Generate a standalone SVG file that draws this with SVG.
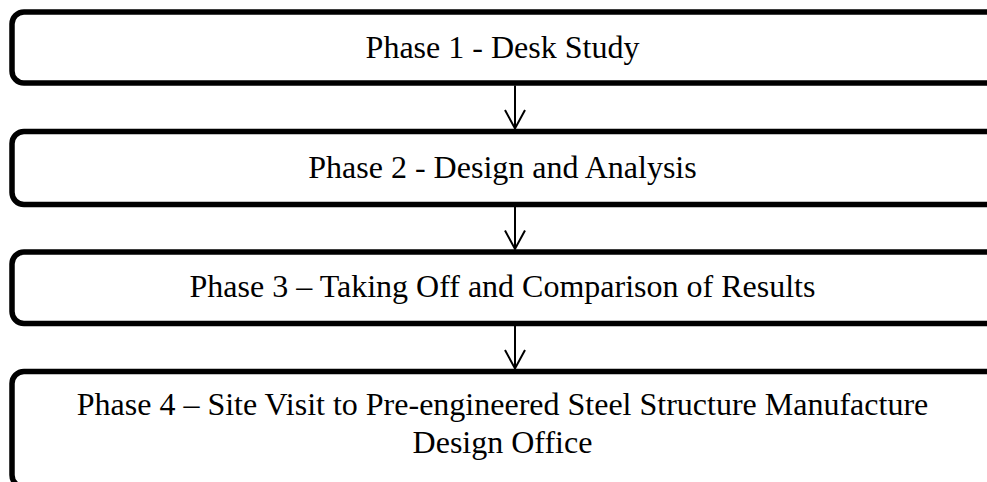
<svg xmlns="http://www.w3.org/2000/svg" width="987" height="482" viewBox="0 0 987 482">
<style>
.box{fill:#fff;stroke:#000;stroke-width:5.5}
.t{font-family:"Liberation Serif","Times New Roman",serif;font-size:32px;fill:#000;text-anchor:middle}
.c{stroke:#000;stroke-width:2;fill:none}
</style>
<rect x="0" y="0" width="987" height="482" fill="#fff"/>
<g id="phase1"><rect class="box" x="12" y="12" width="986" height="71" rx="12"/><text class="t" x="502.5" y="58">Phase 1 - Desk Study</text></g>
<g id="phase2"><rect class="box" x="12" y="131.5" width="986" height="73" rx="12"/><text class="t" x="502.5" y="178">Phase 2 - Design and Analysis</text></g>
<g id="phase3"><rect class="box" x="12" y="252" width="986" height="71.5" rx="12"/><text class="t" x="502.5" y="297">Phase 3 – Taking Off and Comparison of Results</text></g>
<g id="phase4"><rect class="box" x="12" y="371.5" width="986" height="115.5" rx="12"/><text class="t" x="502.5" y="415">Phase 4 – Site Visit to Pre-engineered Steel Structure Manufacture</text><text class="t" x="502.5" y="453">Design Office</text></g>
<g id="connectors">
<path class="c" d="M515 85.5V128.5M505 110L515 128.5L525 110"/>
<path class="c" d="M515 207V249M505 230.5L515 249L525 230.5"/>
<path class="c" d="M515 326V368.5M505 350L515 368.5L525 350"/>
</g>
</svg>
